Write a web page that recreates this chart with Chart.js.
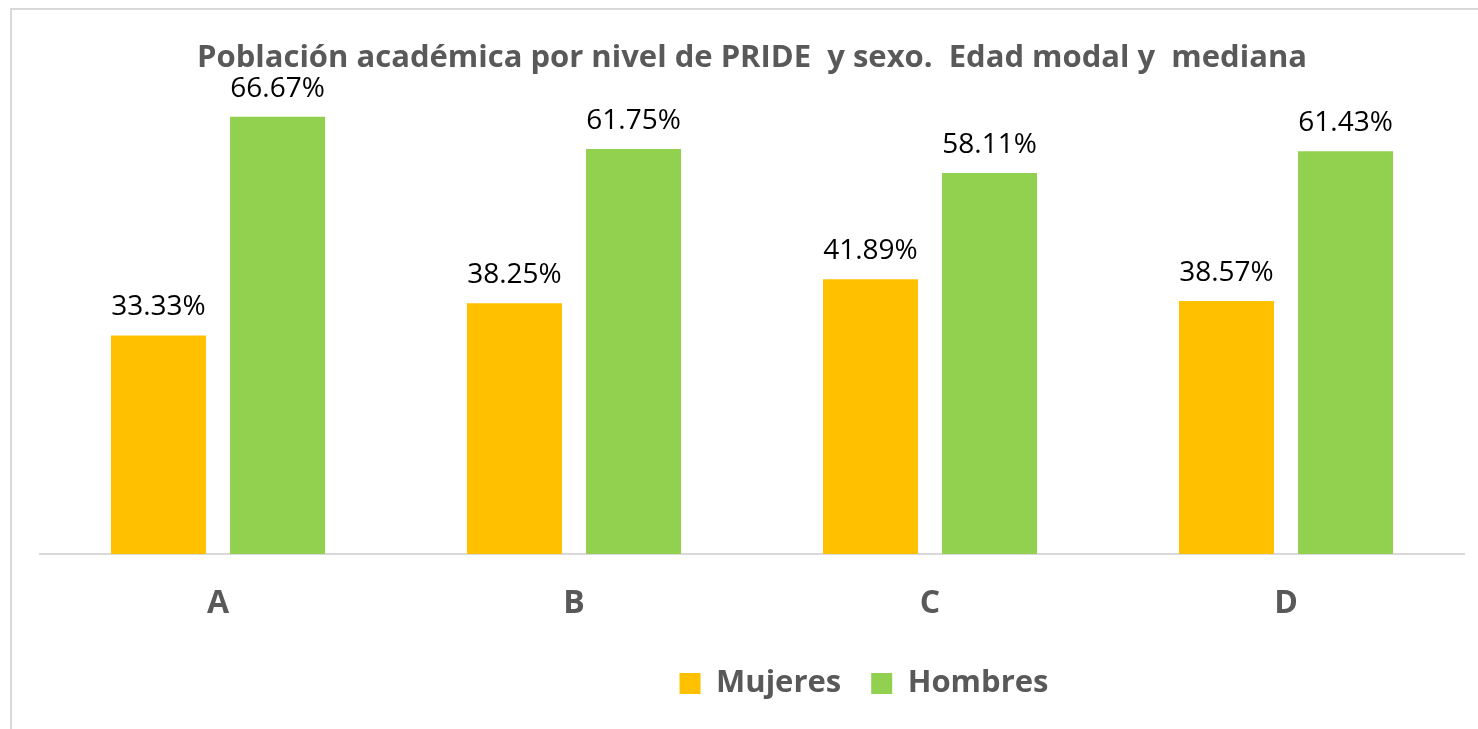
<!DOCTYPE html>
<html>
<head>
<meta charset="utf-8">
<script src="https://cdn.jsdelivr.net/npm/chart.js@4/dist/chart.umd.min.js"></script>
<style>
  html, body { margin: 0; padding: 0; background: #fff; }
  #wrap { position: relative; width: 1478px; height: 729px; overflow: hidden; }
  #frame { position: absolute; left: 10px; top: 8px; width: 1500px; height: 800px;
           border-top: 2px solid #d9d9d9; border-left: 2px solid #d9d9d9; }
  #chart { position: absolute; left: 0; top: 0; }
</style>
</head>
<body>
<div id="wrap">
  <div id="frame"></div>
  <canvas id="chart" width="1478" height="729"></canvas>
</div>
<script>
// Chart data
const categories = ['A', 'B', 'C', 'D'];
const mujeres = [33.33, 38.25, 41.89, 38.57];
const hombres = [66.67, 61.75, 58.11, 61.43];
const seriesNames = ['Mujeres', 'Hombres'];

const FONT = '"Open Sans", Lato, sans-serif';
const GREY = '#595959';

// Draws the value above each bar.
const valueLabels = {
    id: 'valueLabels',
    afterDatasetsDraw(chart) {
        const ctx = chart.ctx;
        ctx.save();
        ctx.font = '28px ' + FONT;
        ctx.fillStyle = '#000';
        ctx.textAlign = 'center';
        ctx.textBaseline = 'middle';
        chart.data.datasets.forEach(function (ds, i) {
            chart.getDatasetMeta(i).data.forEach(function (bar, j) {
                ctx.fillText(ds.data[j].toFixed(2) + '%', bar.x, bar.y - 28);
            });
        });
        ctx.restore();
    }
};

// The legend sits a bit right of centre in the original.
const legendShift = {
    id: 'legendShift',
    afterLayout(chart) {
        chart.legend.left += 112;
        chart.legend.right += 112;
    }
};

const ctx = document.getElementById('chart').getContext('2d');
new Chart(ctx, {
    type: 'bar',
    data: {
        labels: categories,
        datasets: [
            { label: seriesNames[0], data: mujeres, backgroundColor: '#FFC000' },
            { label: seriesNames[1], data: hombres, backgroundColor: '#92D050' },
        ],
    },
    options: {
        responsive: false,
        animation: false,
        layout: { padding: { left: 40, right: 14, top: 0, bottom: 20 } },
        datasets: {
            bar: { categoryPercentage: 0.669, barPercentage: 0.798 },
        },
        scales: {
            x: {
                grid: { display: false },
                border: { color: '#d9d9d9', width: 2 },
                ticks: {
                    color: GREY,
                    padding: 23,
                    font: { family: FONT, size: 32, weight: 'bold' },
                },
                afterFit: function (scale) { scale.height = 84; },
            },
            y: { display: false, min: 0, max: 70 },
        },
        plugins: {
            title: {
                display: true,
                text: 'Población académica por nivel de PRIDE  y sexo.  Edad modal y  mediana',
                color: GREY,
                font: { family: FONT, size: 31, weight: 'bold', lineHeight: 1.2 },
                padding: { top: 39.4, bottom: 18.4 },
            },
            legend: {
                position: 'bottom',
                labels: {
                    color: GREY,
                    boxWidth: 21,
                    boxHeight: 21,
                    padding: 30,
                    font: { family: FONT, size: 31, weight: 'bold' },
                },
            },
            tooltip: { enabled: false },
        },
    },
    plugins: [valueLabels, legendShift],
});
</script>
</body>
</html>
